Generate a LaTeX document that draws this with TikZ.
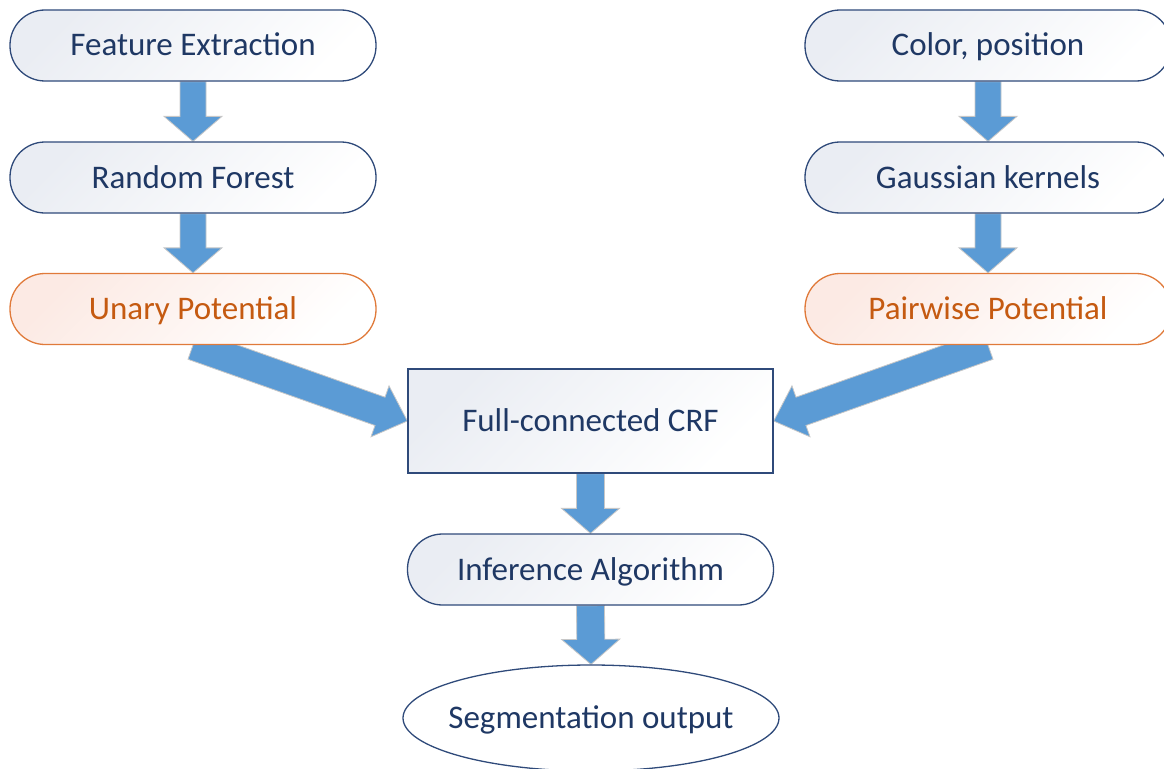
\documentclass[tikz,border=0pt]{standalone}
\usepackage{fontspec}
\setmainfont{Carlito}
\usetikzlibrary{calc,shapes.geometric,backgrounds}
\definecolor{navy}{HTML}{1F3864}
\definecolor{boxline}{HTML}{2F4A7A}
\definecolor{orangeline}{HTML}{E07A3A}
\definecolor{orangetext}{HTML}{C55A11}
\definecolor{arrowblue}{HTML}{5B9BD5}
\definecolor{bluefill}{HTML}{EAEDF3}
\definecolor{orangefill}{HTML}{FCEAE4}
\tikzset{
  base/.style={font=\fontsize{33}{38}\selectfont, inner sep=0pt, line width=1.3pt,
    text height=21pt, text depth=0pt},
  pill/.style={base, rectangle, rounded corners=35pt, minimum width=366pt, minimum height=71pt,
    draw=boxline, text=navy, top color=bluefill, bottom color=white, shading angle=45},
  opill/.style={pill, draw=orangeline, text=orangetext, top color=orangefill, bottom color=white, shading angle=45},
  sqbox/.style={base, rectangle, minimum width=365pt, minimum height=104pt,
    draw=boxline, text=navy, top color=bluefill, bottom color=white, shading angle=45},
  ellbox/.style={base, ellipse, minimum width=376pt, minimum height=106pt, draw=boxline, text=navy, fill=white},
  blockarrow/.style={fill=arrowblue, draw=black!22, line width=0.8pt, line join=miter}
}
% #1 from, #2 to, #3 shaft half width, #4 head half width, #5 head length
\newcommand\bigarrow[5]{%
  \coordinate (ah) at ($(#2)!#5!(#1)$);
  \path[blockarrow] ($(#1)!#3!90:(#2)$) -- ($(ah)!#3!90:(#2)$) -- ($(ah)!#4!90:(#2)$)
     -- (#2) -- ($(ah)!#4!-90:(#2)$) -- ($(ah)!#3!-90:(#2)$) -- ($(#1)!#3!-90:(#2)$) -- cycle;
}
\begin{document}
\begin{tikzpicture}[x=1pt,y=-1pt]
\useasboundingbox (0,0) rectangle (1164,768);
\node[pill]  (feat) at (193,45.5)  {Feature Extraction};
\node[pill]  (rf)   at (193,177.5) {Random Forest};
\node[opill] (un)   at (193,309)   {Unary Potential};
\node[pill]  (col)  at (988,45.5)  {Color, position};
\node[pill]  (gk)   at (988,177.5) {Gaussian kernels};
\node[opill] (pw)   at (988,309)   {Pairwise Potential};
\node[sqbox] (crf)  at (590.5,421) {Full-connected CRF};
\node[pill]  (inf)  at (590.5,569.5) {Inference Algorithm};
\node[ellbox] (seg) at (591,718)   {\makebox[0pt]{Segmentation output}};
\begin{pgfonlayer}{background}
\bigarrow{feat.south}{rf.north}{13pt}{29pt}{25pt}
\bigarrow{rf.south}{un.north}{13pt}{29pt}{25pt}
\bigarrow{col.south}{gk.north}{13pt}{29pt}{25pt}
\bigarrow{gk.south}{pw.north}{13pt}{29pt}{25pt}
\bigarrow{un.south}{crf.west}{15pt}{27pt}{29pt}
\bigarrow{pw.south}{crf.east}{15pt}{27pt}{29pt}
\bigarrow{crf.south}{inf.north}{14pt}{29pt}{25pt}
\bigarrow{inf.south}{seg.north}{14pt}{29pt}{25pt}
\end{pgfonlayer}
\end{tikzpicture}
\end{document}
